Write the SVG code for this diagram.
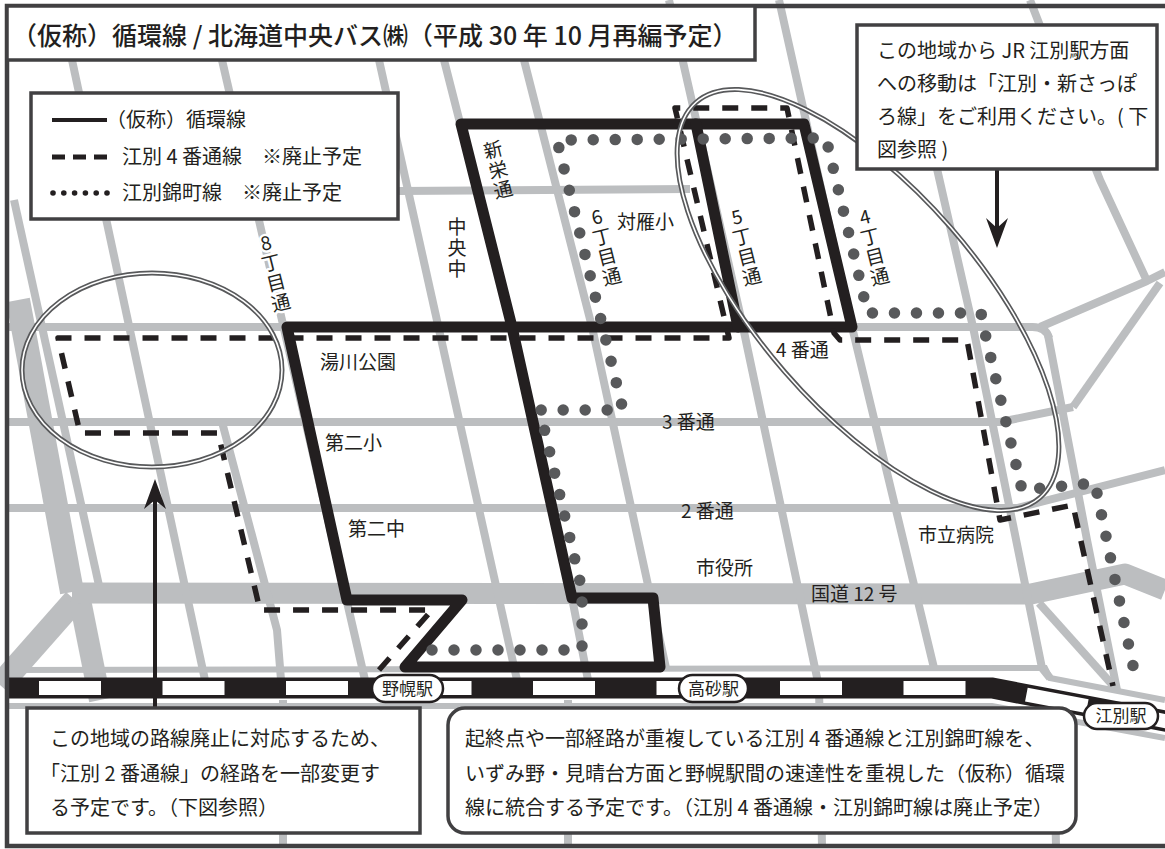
<svg xmlns="http://www.w3.org/2000/svg" width="1165" height="849" viewBox="0 0 1165 849">
<style>
text{font-family:"Noto Sans CJK JP","Noto Sans",sans-serif;fill:#231f20}
.rd{fill:none;stroke:#bcbec0;stroke-width:8;stroke-linejoin:round}
.rt{fill:none;stroke:#bcbec0;stroke-width:6}
.rw{fill:none;stroke:#bcbec0;stroke-width:22;stroke-linejoin:round}
.box{fill:#fff;stroke:#414042;stroke-width:3.5}
.loop{fill:none;stroke:#231f20;stroke-width:11;stroke-linejoin:round;stroke-linecap:round}
.dash{fill:none;stroke:#231f20;stroke-width:5.5;stroke-dasharray:16 13;stroke-linejoin:round}
.dots{fill:none;stroke:#58595b;stroke-width:11.5;stroke-linecap:round;stroke-dasharray:0 22}
.ell{fill:none;stroke:#58595b;stroke-width:5}
.ellw{fill:none;stroke:#fff;stroke-width:1.6}
.lbl{font-size:19px}
.t20{font-size:20px}
.v{font-size:19px;text-anchor:middle}
.halo{stroke:#fff;stroke-width:5;paint-order:stroke;stroke-linejoin:round}
.pill{fill:#fff;stroke:#231f20;stroke-width:2.5}
.st{font-size:17px;text-anchor:middle}
.arr{stroke:#231f20;stroke-width:4;fill:none}
.ah{fill:#231f20}
</style>
<rect x="0" y="0" width="1165" height="849" fill="#fff"/>

<g id="roads">
  <path class="rd" d="M8,327 L1030,327 Q1046,326 1049,338"/>
  <path class="rd" d="M1040,327 L1147,281 L1165,272"/>
  <path class="rd" d="M8,422 L1000,422 L1073,407"/>
  <path class="rd" d="M8,508 L1017,508 L1165,470"/>
  <path class="rd" d="M398,191 L690,189"/>
  <path class="rt" d="M8,670 L1045,668 L1050,678 L1165,700"/>
  <path class="rt" d="M8,706 L992,706 L1165,738"/>
  <path class="rd" d="M14,200 L100,590"/>
  <path class="rw" d="M18,300 L72,592" style="stroke-width:24"/>
  <path class="rw" d="M75,600 L0,685" style="stroke-width:24"/>
  <path class="rw" d="M80,600 L100,700" style="stroke-width:22"/>
  <path class="rw" d="M72,593 L1031,594 L1125,574 L1165,590" style="stroke-width:21"/>
  <path class="rd" d="M72,60 L205,680"/>
  <path class="rd" d="M222,422 L277,630 L281,680"/>
  <path class="rd" d="M222,60 L365,680"/>
  <path class="rd" d="M379,60 L517,680"/>
  <path class="rd" d="M444,60 L512,327 L572,598 L588,680"/>
  <path class="rd" d="M524,60 L592,327 L666,668"/>
  <path class="rd" d="M669,0 L743,327 L819,687 L822,846"/>
  <path class="rd" d="M779,0 L852,327 L934,668"/>
  <path class="rd" d="M935,160 L973,327 L1042,668 L1050,678"/>
  <path class="rd" d="M1048,335 L1087,540 L1117,690"/>
  <path class="rd" d="M1030,0 L1100,180 L1147,281"/>
  <path class="rd" d="M1160,283 L1073,407"/>
  <path class="rd" d="M1039,603 L1117,690"/>
  <path class="rd" d="M283,700 L283,846 M568,700 L568,846 M1053,700 L1056,846"/>
</g>

<g id="railway">
  <path d="M8,688 L992,688 L1170,722" fill="none" stroke="#231f20" stroke-width="21"/>
  <path d="M8,688 L992,688 L1170,722" fill="none" stroke="#fff" stroke-width="14" stroke-dasharray="62 61.5" stroke-dashoffset="92.5"/>
</g>

<g id="connectors">
  <path id="route-loop" class="loop" d="M287,327 L852,327 L804,124 L461,124 L512,327 L572,598 L653,598 L660,667 L405,667 L462,600 L347,600 Z"/>
  <path class="loop" d="M696,124 L738,327"/>
  <path id="route-4ban" class="dash" d="M379,670 L432,610 L260,610 L218,433 L80,433 L58,338 L729,338 L675,108 L787,108 L834,333 L840,340 L967,340 L1000,520 L1073,505 L1113,686"/>
  <path id="route-nishiki" class="dots" d="M432,650 L582,650 L582,590 L545,432 L540,410 L623,410 L557,140 L826,138 L863,293 L867,313 L981,313 L985,333 L1022,490 L1095,483 L1098,498 L1137,685"/>
  <path class="arr" d="M155,708 L155,494"/>
  <path class="ah" d="M155,479 L144,509 L155,500 L166,509 Z"/>
  <path class="arr" d="M997,168 L997,232"/>
  <path class="ah" d="M997,248 L986,218 L997,228 L1008,218 Z"/>
</g>

<g id="area-west">
  <ellipse class="ell" cx="152" cy="370" rx="130" ry="97"/>
  <ellipse class="ellw" cx="152" cy="370" rx="130" ry="97"/>
</g>
<g id="area-east">
  <ellipse class="ell" cx="868" cy="300" rx="262" ry="110" transform="rotate(49 868 300)"/>
  <ellipse class="ellw" cx="868" cy="300" rx="262" ry="110" transform="rotate(49 868 300)"/>
</g>

<g id="map-labels">
  <text class="lbl" x="320" y="369">湯川公園</text>
  <text class="lbl" x="325" y="450">第二小</text>
  <text class="lbl" x="348" y="536">第二中</text>
  <text class="lbl" x="617" y="229">対雁小</text>
  <text class="lbl" x="662" y="429">3 番通</text>
  <text class="lbl" x="681" y="518">2 番通</text>
  <text class="lbl" x="776" y="357">4 番通</text>
  <text class="lbl" x="696" y="575">市役所</text>
  <text class="lbl" x="811" y="601">国道 12 号</text>
  <text class="lbl" x="918" y="542">市立病院</text>
  <text id="lbl-chuo" class="lbl" x="457" y="217" style="writing-mode:vertical-rl;letter-spacing:2px">中央中</text>
  <g id="lbl-8" transform="translate(266,243) rotate(-14)">
    <text class="v halo" x="0" y="7">8</text>
    <text class="v halo" x="0" y="27.5">丁</text>
    <text class="v halo" x="0" y="48">目</text>
    <text class="v halo" x="0" y="68.5">通</text>
  </g>
  <g id="lbl-shinei" transform="translate(493,150) rotate(-14)">
    <text class="v" x="0" y="7">新</text>
    <text class="v" x="0" y="27.5">栄</text>
    <text class="v" x="0" y="48">通</text>
  </g>
  <g id="lbl-6" transform="translate(597,217) rotate(-14)">
    <text class="v" x="0" y="7">6</text>
    <text class="v" x="0" y="27.5">丁</text>
    <text class="v" x="0" y="48">目</text>
    <text class="v" x="0" y="68.5">通</text>
  </g>
  <g id="lbl-5" transform="translate(737,217) rotate(-14)">
    <text class="v" x="0" y="7">5</text>
    <text class="v" x="0" y="27.5">丁</text>
    <text class="v" x="0" y="48">目</text>
    <text class="v" x="0" y="68.5">通</text>
  </g>
  <g id="lbl-4" transform="translate(865,217) rotate(-14)">
    <text class="v" x="0" y="7">4</text>
    <text class="v" x="0" y="27.5">丁</text>
    <text class="v" x="0" y="48">目</text>
    <text class="v" x="0" y="68.5">通</text>
  </g>
</g>

<g id="stations">
  <g id="st-nopporo"><rect class="pill" x="372" y="675" width="71" height="27" rx="13.5"/><text class="st" x="407.5" y="695">野幌駅</text></g>
  <g id="st-takasago"><rect class="pill" x="679" y="675" width="69" height="27" rx="13.5"/><text class="st" x="713.5" y="695">高砂駅</text></g>
  <g id="st-ebetsu"><rect class="pill" x="1084" y="703" width="74" height="26" rx="13"/><text class="st" x="1121" y="722">江別駅</text></g>
</g>

<rect x="7" y="6" width="1170" height="840" fill="none" stroke="#414042" stroke-width="4.5"/>

<g id="title">
  <rect class="box" x="7" y="6" width="748" height="54"/>
  <text x="12" y="45" style="font-size:25px;font-weight:500">（仮称）循環線 / 北海道中央バス㈱（平成 30 年 10 月再編予定）</text>
</g>

<g id="legend">
  <rect class="box" x="31" y="93" width="367" height="126"/>
  <path d="M52,120 L107,120" stroke="#231f20" stroke-width="4"/>
  <path d="M52,157 L107,157" stroke="#231f20" stroke-width="5" stroke-dasharray="13 8"/>
  <g fill="#231f20">
    <circle cx="53" cy="193" r="2.8"/><circle cx="63.8" cy="193" r="2.8"/><circle cx="74.6" cy="193" r="2.8"/>
    <circle cx="85.4" cy="193" r="2.8"/><circle cx="96.2" cy="193" r="2.8"/><circle cx="107" cy="193" r="2.8"/>
  </g>
  <text class="t20" x="106" y="127">（仮称）循環線</text>
  <text class="t20" x="122" y="164">江別 4 番通線　※廃止予定</text>
  <text class="t20" x="122" y="200">江別錦町線　※廃止予定</text>
</g>

<g id="note-ne">
  <rect class="box" x="857" y="25" width="300" height="144"/>
  <text class="t20" x="877" y="58">この地域から JR 江別駅方面</text>
  <text class="t20" x="877" y="91">への移動は「江別・新さっぽ</text>
  <text class="t20" x="877" y="124">ろ線」をご利用ください。( 下</text>
  <text class="t20" x="877" y="157">図参照 )</text>
</g>

<g id="note-sw">
  <rect class="box" x="27" y="708" width="393" height="125"/>
  <text class="t20" x="50" y="746">この地域の路線廃止に対応するため、</text>
  <text class="t20" x="40" y="781">「江別 2 番通線」の経路を一部変更す</text>
  <text class="t20" x="50" y="815">る予定です。（下図参照）</text>
</g>

<g id="note-se">
  <rect class="box" x="448" y="708" width="628" height="125" rx="17"/>
  <text class="t20" x="465" y="746">起終点や一部経路が重複している江別 4 番通線と江別錦町線を、</text>
  <text class="t20" x="465" y="781">いずみ野・見晴台方面と野幌駅間の速達性を重視した（仮称）循環</text>
  <text class="t20" x="465" y="815">線に統合する予定です。（江別 4 番通線・江別錦町線は廃止予定）</text>
</g>
</svg>
